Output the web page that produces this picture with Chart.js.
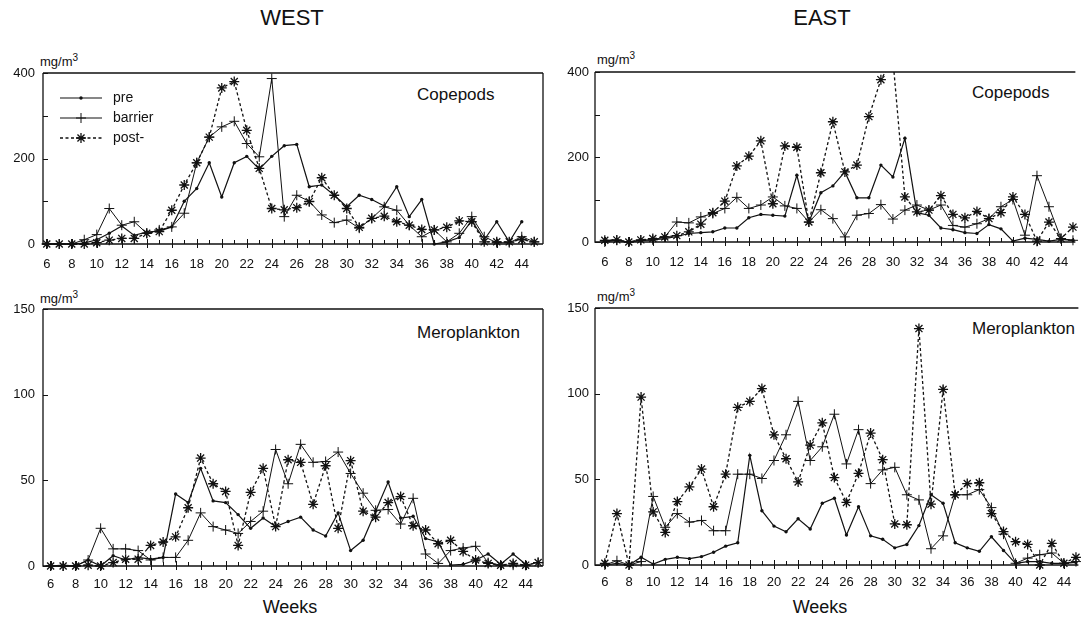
<!DOCTYPE html>
<html>
<head>
<meta charset="utf-8">
<script src="https://cdn.jsdelivr.net/npm/chart.js@4.4.1/dist/chart.umd.min.js"></script>
<style>
  html, body { margin: 0; padding: 0; background: #fff; overflow: hidden; }
  body { width: 1086px; height: 619px; position: relative; font-family: "Liberation Sans", Arial, sans-serif; color: #111; }
  canvas { position: absolute; }
  .t { position: absolute; white-space: nowrap; line-height: 1; }
  .c { transform: translateX(-50%); }
  .u sup { font-size: 10px; vertical-align: 5px; line-height: 0; }
</style>
</head>
<body>
<div class="t c" style="left:292px;top:7px;font-size:22px">WEST</div>
<div class="t c" style="left:822px;top:7px;font-size:22px">EAST</div>

<div class="t u" style="left:40px;top:55px;font-size:13px">mg/m<sup>3</sup></div>
<div class="t u" style="left:597px;top:53px;font-size:13px">mg/m<sup>3</sup></div>
<div class="t u" style="left:40px;top:292px;font-size:13px">mg/m<sup>3</sup></div>
<div class="t u" style="left:597px;top:290px;font-size:13px">mg/m<sup>3</sup></div>

<div class="t" style="left:417px;top:86px;font-size:17px">Copepods</div>
<div class="t" style="left:972px;top:84px;font-size:17px">Copepods</div>
<div class="t" style="left:417px;top:324px;font-size:17px">Meroplankton</div>
<div class="t" style="left:972px;top:320px;font-size:17px">Meroplankton</div>

<div class="t c" style="left:290px;top:598px;font-size:18px">Weeks</div>
<div class="t c" style="left:820px;top:598px;font-size:18px">Weeks</div>

<canvas id="westCop" width="560" height="250" style="left:0;top:40px"></canvas>
<canvas id="eastCop" width="546" height="250" style="left:540px;top:40px"></canvas>
<canvas id="westMer" width="560" height="339" style="left:0;top:280px"></canvas>
<canvas id="eastMer" width="546" height="339" style="left:540px;top:280px"></canvas>

<script>
const weeks = [6,7,8,9,10,11,12,13,14,15,16,17,18,19,20,21,22,23,24,25,26,27,28,29,30,31,32,33,34,35,36,37,38,39,40,41,42,43,44,45];
const seriesNames = ['pre', 'barrier', 'post-'];

// WEST, copepods (mg/m3)
const westCopPre  = [0,0,0,2,10,25,42,20,28,30, 40,100,130,190,110,190,205,175,205,230, 233,134,138,114,87,114,104,89,134,64, 104,0,5,15,55,10,52,5,52,null];
const westCopBar  = [0,0,0,10,22,83,44,52,25,33, 40,72,190,250,274,287,235,204,387,64, 114,100,68,50,56,37,60,87,79,44, 17,33,5,25,64,17,3,3,17,5];
const westCopPost = [0,0,0,0,3,9,13,13,25,29, 79,138,190,250,365,380,266,177,83,80, 85,99,155,114,83,39,60,65,52,44, 34,33,39,54,52,5,5,5,10,5];

// EAST, copepods (week 30 post- runs off the top)
const eastCopPre  = [4,4,0,4,5,8,13,20,22,24, 33,33,57,65,63,61,157,47,116,132, 165,104,104,181,153,244,69,63,33,29, 22,20,41,31,2,9,6,2,6,4];
const eastCopBar  = [0,4,0,4,5,12,47,45,59,67, 79,105,79,87,106,85,79,47,76,55, 12,63,67,88,54,75,87,75,87,39, 35,43,55,83,100,16,156,83,8,4];
const eastCopPost = [4,5,0,5,8,12,15,24,42,69, 96,179,202,238,90,226,223,47,163,283, 165,181,295,382,430,106,71,75,109,65, 57,72,55,69,106,65,2,47,8,35];

// WEST, meroplankton
const westMerPre  = [0,0.5,0,3.5,0,6,3.5,5,4,5, 42,37,57,38,37,30,22,28,23,26, 28.5,21,17.5,31,9,15,32,49,28,29, 16,14,0.5,1,3.5,7,1,7,1,null];
const westMerBar  = [0,0,0,3.5,22,10,10,9,3.5,5, 5,15,31,23,21,19,26,32,68,48, 71,60.5,61,66.5,54,42.5,32.5,33,24.5,39.5, 7,1.5,9,10.5,11.5,2,0.5,0.5,0.5,2];
const westMerPost = [0,0,0,0.5,0,2,4,4,12,14, 17,34,63,48,43.5,12,43,57,23,62, 60.5,36,58.5,22,61.5,32,28.5,37,40.5,23.5, 21,13,15,8.5,3.5,1.5,0.5,1.5,0.5,2];

// EAST, meroplankton
const eastMerPre  = [0,1,0,4.5,0.5,3.3,4.5,3.7,4.9,7.4, 11,13,64,31.7,22.7,19.4,27,21,36,39, 17.5,34,17,15,10,12,23,41,36,13, 10,8,16.5,8.5,1,2,2,1,1,1.5];
const eastMerBar  = [0,2.5,0,2,40,22,30,25,26,20, 20,53,53,50.5,61,76,95.5,61,69,88, 59,79,47.5,55.5,57,41,38,9.5,17,41, 41,44,33.5,18,1,4,6,7,1,2];
const eastMerPost = [1,30,0,98,31,19,37,45.6,56,34, 53,92,95.5,103,76,62,48.5,70,83,51, 36.5,53.5,77,61.5,24,23.5,138,35.5,102.5,41, 47.5,48,30,19.5,13.6,12,0,12.6,1,4.5];

const ink = '#111';
Chart.defaults.font.family = '"Liberation Sans", Arial, sans-serif';
Chart.defaults.color = ink;

const styles = [
  { borderWidth: 1.2, pointStyle: 'circle', pointRadius: 1.7, pointBorderWidth: 0 },
  { borderWidth: 1, pointStyle: 'cross', pointRadius: 5, pointBorderWidth: 1 },
  { borderWidth: 1.3, borderDash: [3, 2.5], pointStyle: 'star', pointRadius: 5, pointBorderWidth: 1.3 }
];

function series(pre, bar, post) {
  return [pre, bar, post].map((vals, i) => Object.assign({
    label: seriesNames[i],
    data: weeks.map((w, j) => ({ x: w, y: vals[j] })),
    borderColor: ink,
    pointBackgroundColor: ink,
    pointBorderColor: ink,
    tension: 0,
    clip: { left: 8, right: 8, top: 0, bottom: 8 }
  }, styles[i]));
}

// box + cross-shaped tick marks like the original plot
const frame = {
  id: 'frame',
  afterDatasetsDraw(chart, args, o) {
    const { ctx, chartArea: a } = chart;
    const x = chart.scales.x, y = chart.scales.y;
    ctx.save();
    ctx.strokeStyle = ink;
    ctx.lineWidth = 1.3;
    ctx.beginPath();
    ctx.moveTo(a.left, a.top); ctx.lineTo(a.left, a.bottom); ctx.lineTo(a.right, a.bottom);
    ctx.moveTo(a.left, a.top); ctx.lineTo(a.right, a.top);
    if (o.right) { ctx.moveTo(a.right, a.top); ctx.lineTo(a.right, a.bottom); }
    ctx.stroke();
    ctx.lineWidth = 1;
    ctx.beginPath();
    x.ticks.forEach(t => {
      const px = Math.round(x.getPixelForValue(t.value)) + 0.5;
      const even = t.value % 2 === 0;
      ctx.moveTo(px, a.bottom - (even ? 5 : 4));
      ctx.lineTo(px, a.bottom + (even ? 4 : 0));
    });
    y.ticks.forEach(t => {
      const py = Math.round(y.getPixelForValue(t.value)) + 0.5;
      ctx.moveTo(a.left, py); ctx.lineTo(a.left + 5, py);
    });
    ctx.stroke();
    ctx.restore();
  }
};

// legend with line samples inside the first panel
const key = {
  id: 'key',
  afterDatasetsDraw(chart, args, o) {
    if (!o.show) return;
    const ctx = chart.ctx;
    chart.data.datasets.forEach((ds, i) => {
      const yy = o.y + i * o.gap;
      ctx.save();
      ctx.strokeStyle = ink;
      ctx.fillStyle = ink;
      ctx.lineWidth = ds.borderWidth;
      ctx.setLineDash(ds.borderDash || []);
      ctx.beginPath(); ctx.moveTo(o.x0, yy); ctx.lineTo(o.x1, yy); ctx.stroke();
      ctx.setLineDash([]);
      ctx.lineWidth = ds.pointBorderWidth || 1;
      Chart.helpers.drawPoint(ctx, { pointStyle: ds.pointStyle, radius: ds.pointRadius, borderWidth: ds.pointBorderWidth, rotation: 0 }, (o.x0 + o.x1) / 2, yy);
      ctx.font = '14px "Liberation Sans", Arial, sans-serif';
      ctx.textBaseline = 'middle';
      ctx.fillText(ds.label, o.tx, yy);
      ctx.restore();
    });
  }
};

function panel(id, vals, p) {
  new Chart(document.getElementById(id), {
    type: 'line',
    data: { datasets: series(vals[0], vals[1], vals[2]) },
    options: {
      responsive: false,
      animation: false,
      events: [],
      layout: { padding: { top: p.top, right: p.right, left: 0, bottom: 0 } },
      scales: {
        x: {
          type: 'linear', min: p.xmin, max: p.xmax,
          grid: { display: false, drawTicks: false }, border: { display: false },
          afterBuildTicks: s => { s.ticks = weeks.map(v => ({ value: v })); },
          afterFit: s => { s.height = p.xh; },
          ticks: {
            autoSkip: false, maxRotation: 0, padding: p.xpad, font: { size: 13 },
            callback: v => (v % 2 === 0 && v <= 44) ? String(v) : ''
          }
        },
        y: {
          min: 0, max: p.ymax,
          grid: { display: false, drawTicks: false }, border: { display: false },
          afterFit: s => { s.width = p.yw; },
          ticks: { stepSize: p.step, padding: p.ypad, font: { size: 13 }, callback: p.ylab }
        }
      },
      plugins: {
        legend: { display: false },
        tooltip: { enabled: false },
        frame: { right: p.border },
        key: { show: !!p.key, x0: 60, x1: 102, tx: 113, y: 58, gap: 20 }
      }
    },
    plugins: [frame, key]
  });
}

const copLab = v => (v % 200 === 0 ? String(v) : '');
const merLab = v => String(v);

panel('westCop', [westCopPre, westCopBar, westCopPost],
  { top: 33, right: 17, xh: 46, yw: 43, xmin: 5.7, xmax: 45.7, ymax: 400, step: 100, ylab: copLab, xpad: 13, ypad: 8, border: true, key: true });
panel('eastCop', [eastCopPre, eastCopBar, eastCopPost],
  { top: 32, right: 0, xh: 48, yw: 55, xmin: 5.185, xmax: 45.2, ymax: 400, step: 100, ylab: copLab, xpad: 13, ypad: 6, border: false });
panel('westMer', [westMerPre, westMerBar, westMerPost],
  { top: 29, right: 17, xh: 53, yw: 43, xmin: 5.39, xmax: 45.39, ymax: 150, step: 50, ylab: merLab, xpad: 11, ypad: 8, border: true });
panel('eastMer', [eastMerPre, eastMerBar, eastMerPost],
  { top: 28, right: 0, xh: 54, yw: 55, xmin: 5.185, xmax: 45.2, ymax: 150, step: 50, ylab: merLab, xpad: 10, ypad: 6, border: false });
</script>
</body>
</html>
